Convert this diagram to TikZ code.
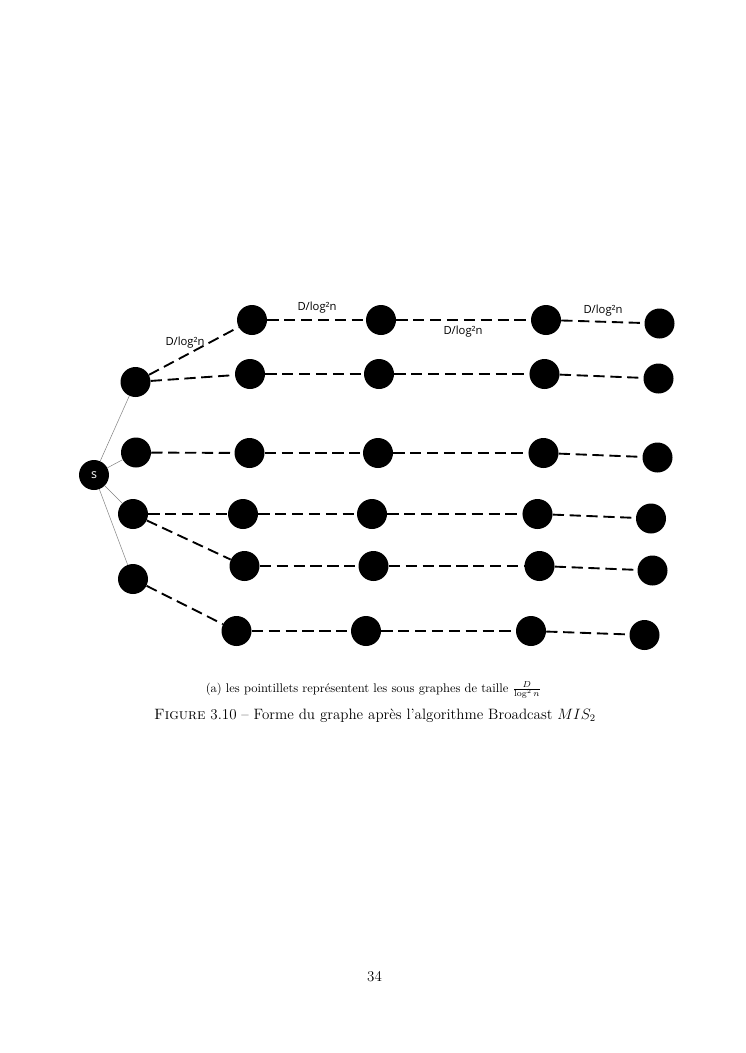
\documentclass[tikz,border=0pt]{standalone}
\usepackage{fontspec}
\newfontfamily\lbl{Open Sans}
\begin{document}
\begin{tikzpicture}[x=0.8pt,y=-0.8pt,
  dot/.style={circle,fill=black,draw=none,minimum size=24pt,inner sep=0pt},
  src/.style={dot,text=white,font=\lbl\fontsize{10}{11}\selectfont},
  dsh/.style={line width=1.5pt,dash pattern=on 9pt off 4.5pt},
  thin/.style={line width=0.4pt,draw=gray},
  lab/.style={font=\lbl\fontsize{9}{10}\selectfont,inner sep=0pt}]
\useasboundingbox (0,0) rectangle (745,1053);
% source
\node[src] (s) at (94,475) {s};
% first-level nodes
\node[dot] (a1) at (135.5,382) {};
\node[dot] (a3) at (136,452.5) {};
\node[dot] (a4) at (133,514) {};
\node[dot] (a6) at (133,579) {};
% row 1
\node[dot] (r1a) at (252,320) {};
\node[dot] (r1b) at (381,320) {};
\node[dot] (r1c) at (546,320) {};
\node[dot] (r1d) at (659.5,323.5) {};
% row 2
\node[dot] (r2a) at (250,374) {};
\node[dot] (r2b) at (379,374) {};
\node[dot] (r2c) at (544.5,374) {};
\node[dot] (r2d) at (658.5,378.5) {};
% row 3
\node[dot] (r3a) at (249.5,453) {};
\node[dot] (r3b) at (378,453) {};
\node[dot] (r3c) at (543.5,453) {};
\node[dot] (r3d) at (657.5,457.5) {};
% row 4
\node[dot] (r4a) at (243,514) {};
\node[dot] (r4b) at (372,514) {};
\node[dot] (r4c) at (537.5,514) {};
\node[dot] (r4d) at (651,518.5) {};
% row 5
\node[dot] (r5a) at (244.5,566) {};
\node[dot] (r5b) at (373.5,566) {};
\node[dot] (r5c) at (539.5,566) {};
\node[dot] (r5d) at (652.5,570.5) {};
% row 6
\node[dot] (r6a) at (236.5,631) {};
\node[dot] (r6b) at (366,631) {};
\node[dot] (r6c) at (531,631) {};
\node[dot] (r6d) at (644.5,635) {};
% thin edges from s
\draw[thin] (s) -- (a1);
\draw[thin] (s) -- (a3);
\draw[thin] (s) -- (a4);
\draw[thin] (s) -- (a6);
% dashed edges
\draw[dsh] (a1) -- (r1a);
\draw[dsh] (a1) -- (r2a);
\draw[dsh] (a3) -- (r3a);
\draw[dsh] (a4) -- (r4a);
\draw[dsh] (a4) -- (r5a);
\draw[dsh] (a6) -- (r6a);
\foreach \r in {1,...,6}{
  \draw[dsh] (r\r a) -- (r\r b);
  \draw[dsh] (r\r b) -- (r\r c);
  \draw[dsh] (r\r c) -- (r\r d);
}
% labels
\node[lab] (l1) at (317,308) {D/log²n};
\node[lab] (l2) at (185,342.5) {D/log²n};
\node[lab] (l3) at (463,332) {D/log²n};
\node[lab] (l4) at (603,311) {D/log²n};
% captions
\node[font=\fontsize{10}{12}\selectfont,inner sep=0pt] (cap1) at (373.5,690) {(a) les pointillets représentent les sous graphes de taille $\frac{D}{\log^2 n}$};
\node[font=\fontsize{12}{14}\selectfont,inner sep=0pt] (cap2) at (375,716) {\textsc{Figure} 3.10 -- Forme du graphe après l'algorithme Broadcast $MIS_2$};
\node[font=\fontsize{12}{14}\selectfont,inner sep=0pt] (pg) at (374.5,977) {34};
\end{tikzpicture}
\end{document}
